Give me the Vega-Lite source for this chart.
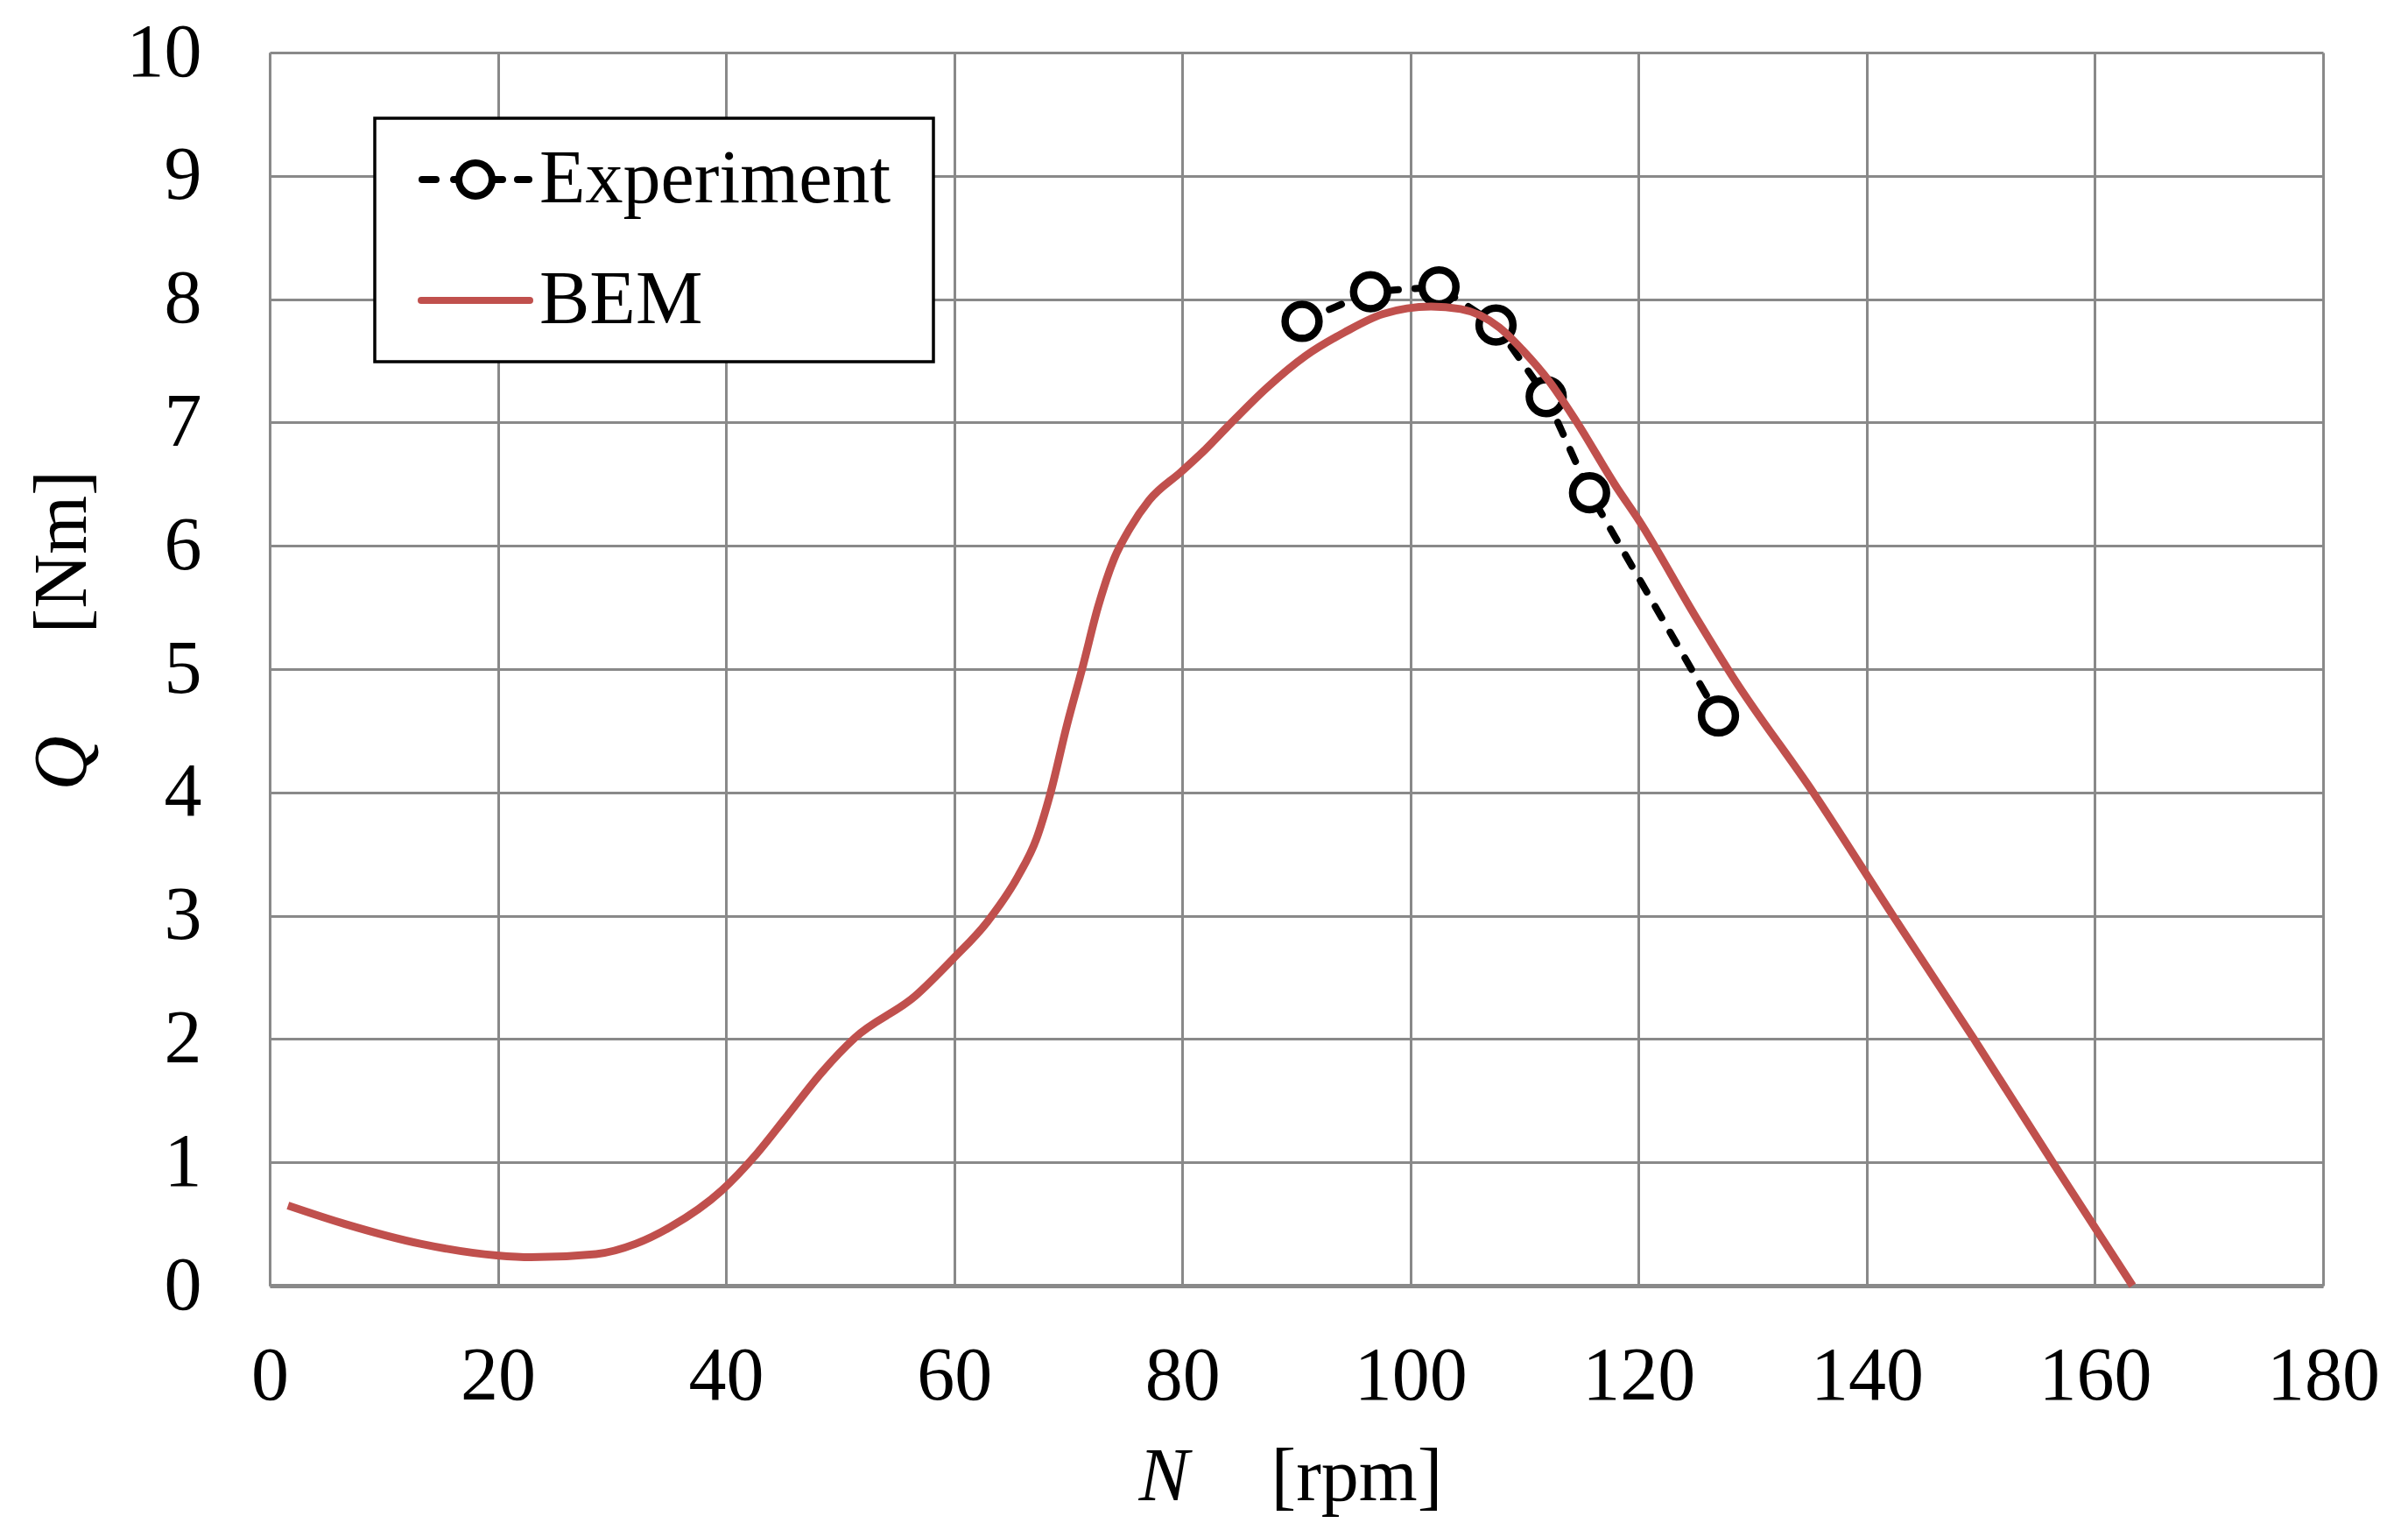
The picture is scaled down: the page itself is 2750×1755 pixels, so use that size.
{
  "$schema": "https://vega.github.io/schema/vega-lite/v6.json",
  "background": "white",
  "autosize": {"type": "none"},
  "padding": {"left": 308, "top": 60, "right": 97, "bottom": 287},
  "width": 2345,
  "height": 1408,
  "config": {
    "font": "Liberation Serif",
    "view": {"stroke": null}
  },
  "layer": [
    {
      "data": {
        "values": [
          {"N": 90.5, "Q": 7.82},
          {"N": 96.5, "Q": 8.06},
          {"N": 102.5, "Q": 8.10},
          {"N": 107.5, "Q": 7.79},
          {"N": 111.9, "Q": 7.21},
          {"N": 115.7, "Q": 6.43},
          {"N": 127.0, "Q": 4.62}
        ]
      },
      "mark": {"type": "line", "stroke": "black", "strokeWidth": 8, "strokeDash": [15, 19], "strokeCap": "round"},
      "encoding": {
        "x": {
          "field": "N", "type": "quantitative",
          "scale": {"domain": [0, 180], "nice": false, "zero": false},
          "axis": {
            "orient": "bottom", "labels": false, "ticks": false, "grid": false, "domain": false,
            "title": "N", "titleFont": "Liberation Serif", "titleFontSize": 86, "titleFontStyle": "italic",
            "titleFontWeight": "normal", "titleColor": "black",
            "titleX": 992, "titleY": 244, "titleAlign": "left", "titleBaseline": "alphabetic"
          }
        },
        "y": {
          "field": "Q", "type": "quantitative",
          "scale": {"domain": [0, 10], "nice": false},
          "axis": {
            "orient": "left", "labels": false, "ticks": false, "grid": false, "domain": false,
            "title": "Q", "titleFont": "Liberation Serif", "titleFontSize": 86, "titleFontStyle": "italic",
            "titleFontWeight": "normal", "titleColor": "black",
            "titleX": -211, "titleY": 842, "titleAngle": 270, "titleAlign": "left", "titleBaseline": "alphabetic"
          }
        }
      }
    },
    {
      "data": {
        "values": [
          {"N": 90.5, "Q": 7.82},
          {"N": 96.5, "Q": 8.06},
          {"N": 102.5, "Q": 8.10},
          {"N": 107.5, "Q": 7.79},
          {"N": 111.9, "Q": 7.21},
          {"N": 115.7, "Q": 6.43},
          {"N": 127.0, "Q": 4.62}
        ]
      },
      "mark": {"type": "point", "shape": "circle", "size": 1500, "filled": true, "fill": "white", "stroke": "black", "strokeWidth": 8.5, "opacity": 1},
      "encoding": {
        "x": {"field": "N", "type": "quantitative", "axis": null},
        "y": {"field": "Q", "type": "quantitative", "axis": null}
      }
    },
    {
      "data": {
        "values": [
          {"series": "BEM", "N": 1.6, "Q": 0.65},
          {"series": "BEM", "N": 6.6, "Q": 0.50},
          {"series": "BEM", "N": 13.2, "Q": 0.34},
          {"series": "BEM", "N": 19.9, "Q": 0.245},
          {"series": "BEM", "N": 22.9, "Q": 0.23},
          {"series": "BEM", "N": 28.6, "Q": 0.256},
          {"series": "BEM", "N": 32.1, "Q": 0.34},
          {"series": "BEM", "N": 35.2, "Q": 0.48},
          {"series": "BEM", "N": 39.6, "Q": 0.77},
          {"series": "BEM", "N": 42.7, "Q": 1.07},
          {"series": "BEM", "N": 45.3, "Q": 1.37},
          {"series": "BEM", "N": 48.4, "Q": 1.73},
          {"series": "BEM", "N": 51.3, "Q": 2.01},
          {"series": "BEM", "N": 56.6, "Q": 2.35},
          {"series": "BEM", "N": 59.9, "Q": 2.65},
          {"series": "BEM", "N": 62.9, "Q": 2.95},
          {"series": "BEM", "N": 65.6, "Q": 3.32},
          {"series": "BEM", "N": 67.2, "Q": 3.62},
          {"series": "BEM", "N": 68.4, "Q": 3.98},
          {"series": "BEM", "N": 69.9, "Q": 4.55},
          {"series": "BEM", "N": 71.3, "Q": 5.03},
          {"series": "BEM", "N": 72.6, "Q": 5.5},
          {"series": "BEM", "N": 74.0, "Q": 5.89},
          {"series": "BEM", "N": 75.4, "Q": 6.14},
          {"series": "BEM", "N": 77.1, "Q": 6.37},
          {"series": "BEM", "N": 79.9, "Q": 6.6},
          {"series": "BEM", "N": 81.9, "Q": 6.77},
          {"series": "BEM", "N": 83.9, "Q": 6.96},
          {"series": "BEM", "N": 87.4, "Q": 7.28},
          {"series": "BEM", "N": 90.8, "Q": 7.54},
          {"series": "BEM", "N": 94.2, "Q": 7.73},
          {"series": "BEM", "N": 97.6, "Q": 7.88},
          {"series": "BEM", "N": 101.8, "Q": 7.94},
          {"series": "BEM", "N": 104.4, "Q": 7.92},
          {"series": "BEM", "N": 107.8, "Q": 7.77},
          {"series": "BEM", "N": 109.8, "Q": 7.59},
          {"series": "BEM", "N": 112.2, "Q": 7.33},
          {"series": "BEM", "N": 114.6, "Q": 7.0},
          {"series": "BEM", "N": 118.1, "Q": 6.47},
          {"series": "BEM", "N": 120.0, "Q": 6.21},
          {"series": "BEM", "N": 124.9, "Q": 5.44},
          {"series": "BEM", "N": 128.3, "Q": 4.93},
          {"series": "BEM", "N": 135.3, "Q": 4.0},
          {"series": "BEM", "N": 142.3, "Q": 3.0},
          {"series": "BEM", "N": 149.4, "Q": 2.0},
          {"series": "BEM", "N": 156.3, "Q": 1.0},
          {"series": "BEM", "N": 163.3, "Q": 0.0}
        ]
      },
      "mark": {"type": "line", "strokeWidth": 9, "interpolate": "monotone"},
      "encoding": {
        "x": {
          "field": "N", "type": "quantitative",
          "axis": {
            "orient": "bottom", "values": [0, 20, 40, 60, 80, 100, 120, 140, 160, 180],
            "grid": true, "gridColor": "#898989", "gridWidth": 3, "gridOpacity": 1,
            "domain": true, "domainColor": "#898989", "domainWidth": 5,
            "ticks": false, "tickSize": 0, "labelPadding": 61,
            "labelFont": "Liberation Serif", "labelFontSize": 86, "labelColor": "black",
            "labelFlush": false, "labelOverlap": false,
            "title": "[rpm]", "titleFont": "Liberation Serif", "titleFontSize": 86,
            "titleFontWeight": "normal", "titleColor": "black",
            "titleX": 1143, "titleY": 244, "titleAlign": "left", "titleBaseline": "alphabetic"
          }
        },
        "y": {
          "field": "Q", "type": "quantitative",
          "axis": {
            "orient": "left", "values": [0, 1, 2, 3, 4, 5, 6, 7, 8, 9, 10],
            "grid": true, "gridColor": "#898989", "gridWidth": 3, "gridOpacity": 1,
            "domain": true, "domainColor": "#898989", "domainWidth": 3,
            "ticks": false, "tickSize": 0, "labelPadding": 78,
            "labelFont": "Liberation Serif", "labelFontSize": 86, "labelColor": "black",
            "labelFlush": false, "labelOverlap": false,
            "title": "[Nm]", "titleFont": "Liberation Serif", "titleFontSize": 86,
            "titleFontWeight": "normal", "titleColor": "black",
            "titleX": -211, "titleY": 663, "titleAngle": 270, "titleAlign": "left", "titleBaseline": "alphabetic"
          }
        },
        "color": {
          "field": "series", "type": "nominal",
          "scale": {"domain": ["Experiment", "BEM"], "range": ["black", "#C0504D"]},
          "legend": {
            "orient": "none", "legendX": 120, "legendY": 75,
            "title": "\u00a0", "titleOrient": "right", "titlePadding": 45,
            "titleFont": "Liberation Serif", "titleFontSize": 86,
            "strokeColor": "black", "fillColor": "white",
            "padding": 4, "rowPadding": 6, "clipHeight": 132,
            "symbolSize": 15376, "symbolStrokeWidth": 8, "symbolOffset": 45,
            "labelOffset": 7, "labelLimit": 0,
            "labelFont": "Liberation Serif", "labelFontSize": 86, "labelColor": "black",
            "encode": {
              "legend": {"update": {"strokeWidth": {"value": 3.5}}},
              "symbols": {
                "update": {
                  "shape": [
                    {"test": "datum.value === 'Experiment'", "value": "M-0.984,0L-0.726,0M-0.403,0L-0.306,0M0.306,0L0.5,0M0.774,0L0.984,0M-0.306,0A0.306,0.306,0,1,0,0.306,0A0.306,0.306,0,1,0,-0.306,0Z"},
                    {"value": "stroke"}
                  ],
                  "fill": [
                    {"test": "datum.value === 'Experiment'", "value": "white"},
                    {"value": "transparent"}
                  ],
                  "strokeCap": {"value": "round"},
                  "strokeWidth": {"value": 8},
                  "opacity": {"value": 1}
                }
              }
            }
          }
        }
      }
    }
  ],
  "resolve": {"axis": {"x": "independent", "y": "independent"}}
}
